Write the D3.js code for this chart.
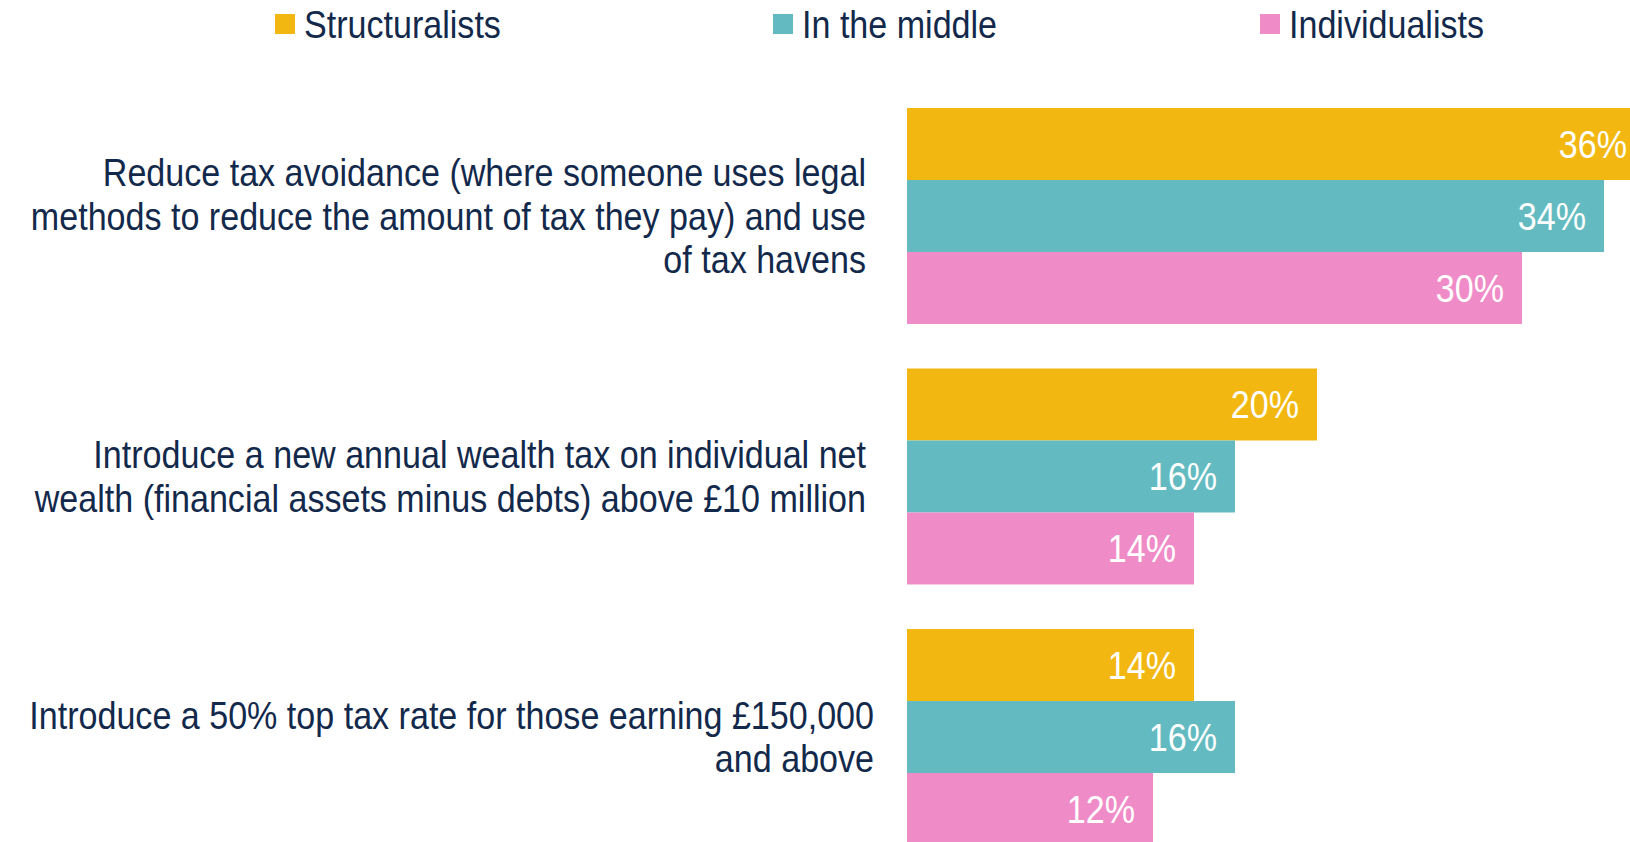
<!DOCTYPE html>
<html>
<head>
<meta charset="utf-8">
<script src="https://cdn.jsdelivr.net/npm/d3@7"></script>
<style>
  html, body { margin: 0; padding: 0; background: #fff; overflow: hidden; }
  svg text { font-family: "Liberation Sans", Arial, sans-serif; }
</style>
</head>
<body>
<div id="chart"></div>
<script>
// categories (each split into its printed lines)
let categories = ["avoidance", "wealth", "toprate"];
let categoryLines = [
  ["Reduce tax avoidance (where someone uses legal",
   "methods to reduce the amount of tax they pay) and use",
   "of tax havens"],
  ["Introduce a new annual wealth tax on individual net",
   "wealth (financial assets minus debts) above £10 million"],
  ["Introduce a 50% top tax rate for those earning £150,000",
   "and above"]
];

let seriesNames = ["Structuralists", "In the middle", "Individualists"];
let structuralists = [36, 20, 14];
let inTheMiddle = [34, 16, 16];
let individualists = [30, 14, 12];
let seriesColors = ["#F2B811", "#63BBC1", "#EF8CC8"];

(function() {
  let width = 1630, height = 842;
  let textColor = "#13294B";
  let fontSize = "39px";

  let svg = d3.select("#chart")
    .append("svg")
      .attr("width", width)
      .attr("height", height);

  // the source uses a condensed face; squeeze a regular one to match
  let probe = svg.append("text")
    .style("font-size", fontSize)
    .text(categoryLines[1][0]);
  let squeeze = 773 / probe.node().getComputedTextLength();
  probe.remove();

  let seriesValues = [structuralists, inTheMiddle, individualists];

  // x scale: % to px
  let xScale = d3.scaleLinear()
    .domain([0, 40])
    .range([907, 907 + 40 * 20.5]);

  // group scale
  let yScale = d3.scaleBand()
    .domain(categories)
    .range([85.75, 867.25])
    .paddingInner(0.171)
    .paddingOuter(0.0854);

  // bar-in-group scale
  let ySub = d3.scaleBand()
    .domain(seriesNames)
    .range([0, yScale.bandwidth()]);

  // legend
  let legendX = [275, 773, 1260];
  let legend = svg.append("g").selectAll("g")
    .data(seriesNames)
    .enter()
    .append("g")
      .attr("transform", (d, i) => "translate(" + legendX[i] + ", 24)");

  legend.append("rect")
    .attr("x", 0)
    .attr("y", -10)
    .attr("width", 20)
    .attr("height", 20)
    .style("fill", (d, i) => seriesColors[i]);

  legend.append("text")
    .attr("transform", "translate(29, 0) scale(" + squeeze + ",1)")
    .attr("dy", "0.35em")
    .style("font-size", fontSize)
    .style("fill", textColor)
    .text(d => d);

  // bars
  let groups = svg.append("g").selectAll("g")
    .data(categories)
    .enter()
    .append("g")
      .attr("transform", d => "translate(0, " + yScale(d) + ")");

  groups.each(function(cat, ci) {
    let g = d3.select(this);
    let rows = seriesNames.map((s, si) => ({ series: s, value: seriesValues[si][ci], color: seriesColors[si] }));

    g.selectAll("rect")
      .data(rows)
      .enter()
      .append("rect")
        .attr("x", xScale(0))
        .attr("y", d => ySub(d.series))
        .attr("width", d => xScale(d.value) - xScale(0))
        .attr("height", ySub.bandwidth())
        .style("fill", d => d.color);

    g.selectAll("text.value")
      .data(rows)
      .enter()
      .append("text")
        .attr("class", "value")
        .attr("transform", d => "translate(" + (xScale(d.value) - 18) + "," +
              (ySub(d.series) + ySub.bandwidth() / 2) + ") scale(" + squeeze + ",1)")
        .attr("dy", "0.35em")
        .attr("text-anchor", "end")
        .style("font-size", fontSize)
        .style("fill", "#fff")
        .text(d => d.value + "%");

    // category label
    let lines = categoryLines[ci];
    let lineH = 43.5;
    let labelRight = ci === 2 ? 874 : 866;
    let label = g.append("text")
      .attr("transform", "translate(" + labelRight + "," + (yScale.bandwidth() / 2) + ") scale(" + squeeze + ",1)")
      .attr("text-anchor", "end")
      .style("font-size", fontSize)
      .style("fill", textColor);
    lines.forEach((ln, li) => {
      label.append("tspan")
        .attr("x", 0)
        .attr("y", (li - (lines.length - 1) / 2) * lineH)
        .attr("dy", "0.35em")
        .text(ln);
    });
  });
})();
</script>
</body>
</html>
